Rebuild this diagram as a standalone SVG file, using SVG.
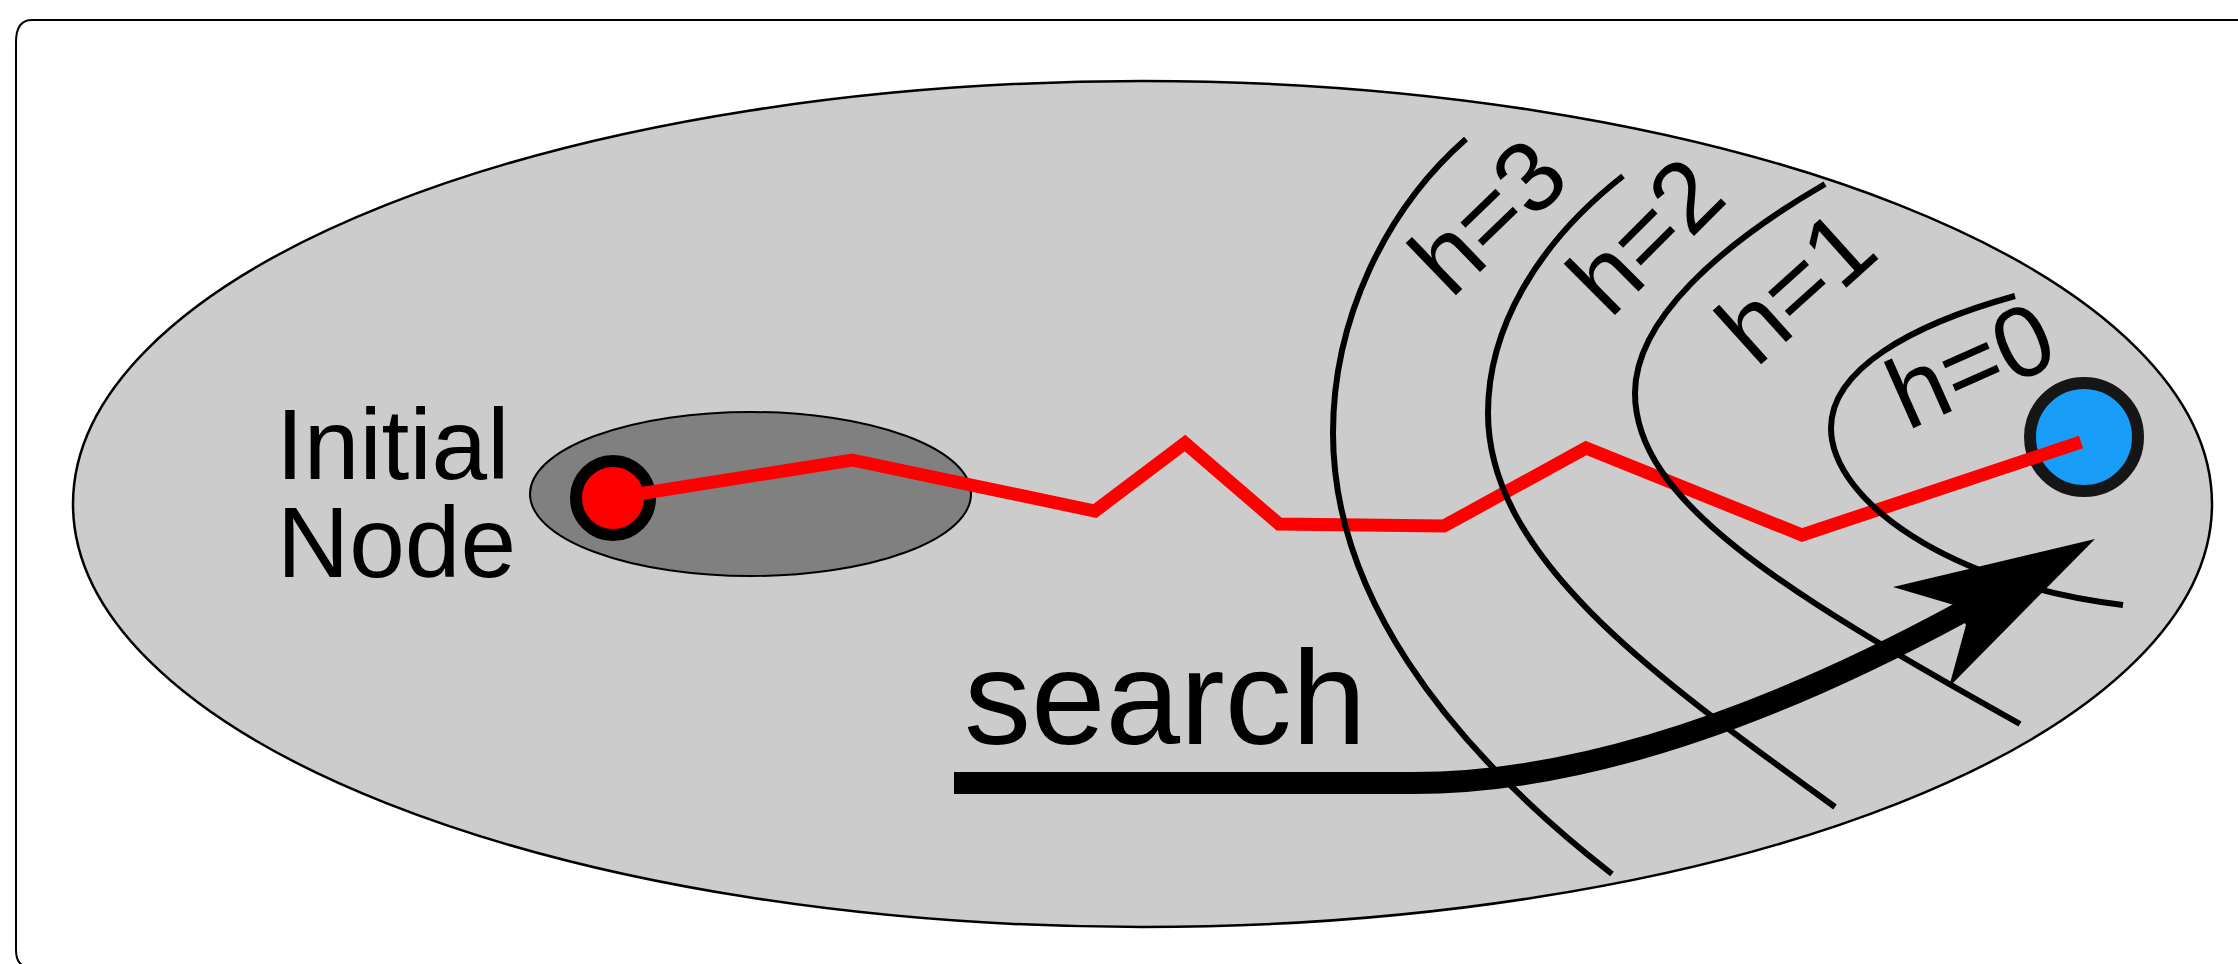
<svg xmlns="http://www.w3.org/2000/svg" width="2238" height="964" viewBox="0 0 2238 964">
  <style>
    .lbl { font-family: "Liberation Sans", Arial, sans-serif; fill: #000; }
    .contour { fill: none; stroke: #000; stroke-width: 6; }
  </style>
  <rect width="2238" height="964" fill="#fff"/>
  <path id="frame" d="M 2245 20 H 32 Q 16 20 16 42 V 950 Q 16 967 30 967 H 2245" fill="none" stroke="#000" stroke-width="2"/>
  <g id="space">
    <ellipse cx="1142.5" cy="504" rx="1069.5" ry="423" fill="#cccccc" stroke="#000" stroke-width="2.5"/>
  </g>
  <g id="start-region">
    <ellipse cx="750.5" cy="494" rx="220.5" ry="82" fill="#808080" stroke="#000" stroke-width="2"/>
  </g>
  <g id="initial-label">
    <text class="lbl" x="276" y="479" font-size="100">Initial</text>
    <text class="lbl" x="277" y="577" font-size="100">Node</text>
  </g>
  <g id="initial-node">
    <circle cx="613" cy="498" r="37" fill="#ff0000" stroke="#000" stroke-width="12"/>
  </g>
  <g id="goal-node">
    <circle cx="2084" cy="437" r="54" fill="#189ef8" stroke="#161616" stroke-width="12"/>
  </g>
  <g id="connectors">
    <polyline points="613,498 852,460 1095,511 1185,443 1279,524 1444,526 1586,448 1802,535 2081,442" fill="none" stroke="#ff0000" stroke-width="13" stroke-linejoin="miter"/>
  </g>
  <g id="contours">
    <path class="contour" d="M1466 139 C 1385 210, 1333 320, 1333 433 C 1333 590, 1440 740, 1612 874"/>
    <path class="contour" d="M1623 176 C 1535 245, 1488 330, 1488 413 C 1488 560, 1660 680, 1835 807"/>
    <path class="contour" d="M1825 184 C 1720 245, 1635 320, 1635 393 C 1635 500, 1780 590, 2020 724"/>
    <path class="contour" d="M2015 296 C 1910 325, 1831 370, 1831 428 C 1831 500, 1950 585, 2123 605"/>
  </g>
  <g id="contour-labels">
    <text class="lbl" font-size="100" transform="translate(1451,300) rotate(-44)">h=3</text>
    <text class="lbl" font-size="100" transform="translate(1610,320) rotate(-45)">h=2</text>
    <text class="lbl" font-size="100" transform="translate(1756,369) rotate(-42)">h=1</text>
    <text class="lbl" font-size="100" transform="translate(1907,431) rotate(-24)">h=0</text>
  </g>
  <g id="search-arrow">
    <path d="M 954 783 H 1413 C 1600 783, 1800 700, 1962 612" fill="none" stroke="#000" stroke-width="22"/>
    <polygon points="2095,539 1893,587 1954,605 1966,625 1949,687" fill="#000"/>
    <text class="lbl" x="964" y="744" font-size="134">search</text>
  </g>
</svg>
